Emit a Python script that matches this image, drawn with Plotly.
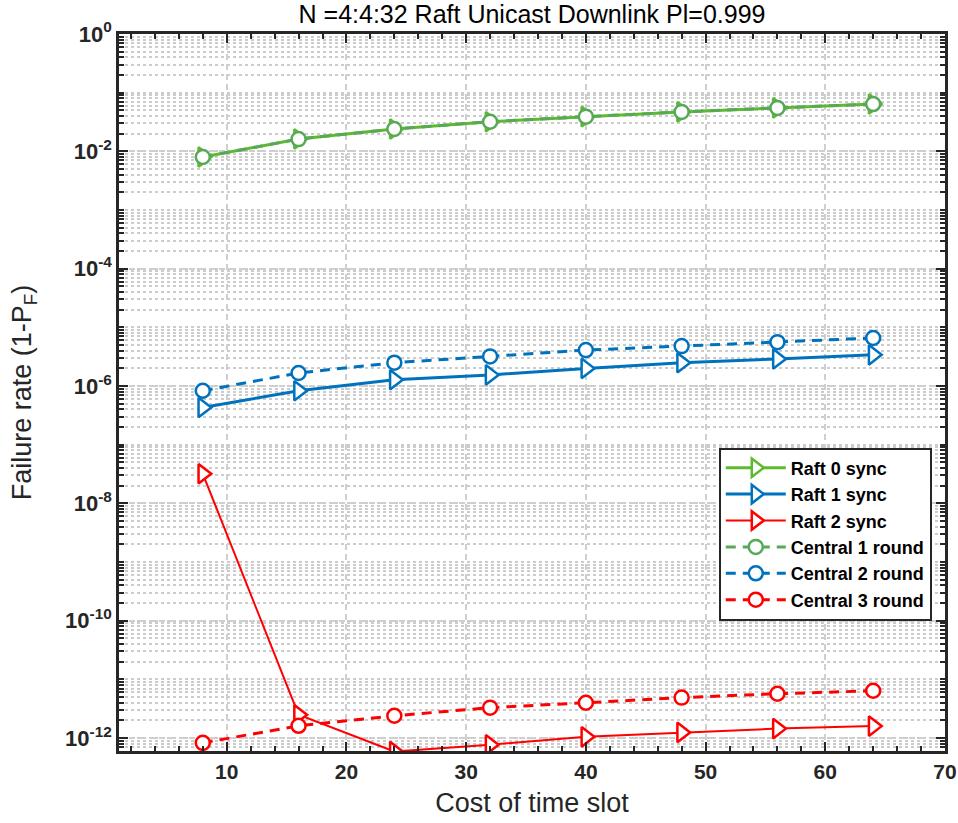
import plotly.graph_objects as go

x = [8, 16, 24, 32, 40, 48, 56, 64]

raft0 = [8.0e-3, 1.62e-2, 2.4e-2, 3.2e-2, 3.9e-2, 4.7e-2, 5.5e-2, 6.4e-2]
raft1 = [4.3e-7, 8.3e-7, 1.28e-6, 1.55e-6, 2.0e-6, 2.5e-6, 2.9e-6, 3.4e-6]
raft2 = [3.2e-8, 2.5e-12, 5.9e-13, 7.7e-13, 1.05e-12, 1.25e-12, 1.45e-12, 1.6e-12]
central1 = [8.0e-3, 1.62e-2, 2.4e-2, 3.2e-2, 3.9e-2, 4.7e-2, 5.5e-2, 6.4e-2]
central2 = [8.3e-7, 1.67e-6, 2.5e-6, 3.2e-6, 4.1e-6, 4.8e-6, 5.6e-6, 6.6e-6]
central3 = [8.3e-13, 1.62e-12, 2.4e-12, 3.3e-12, 4.0e-12, 4.9e-12, 5.7e-12, 6.4e-12]

x_ticks = [10, 20, 30, 40, 50, 60, 70]
y_exps = [0, -2, -4, -6, -8, -10, -12]

GREEN_R = "#5cba2e"
GREEN_C = "#58a957"
BLUE = "#0072BD"
RED = "#FF0000"

series = [
    ("Raft 0 sync", raft0, GREEN_R, "solid", "triangle-right", 3),
    ("Raft 1 sync", raft1, BLUE, "solid", "triangle-right", 3),
    ("Raft 2 sync", raft2, RED, "solid", "triangle-right", 2),
    ("Central 1 round", central1, GREEN_C, "10px,7px", "circle", 3),
    ("Central 2 round", central2, BLUE, "10px,7px", "circle", 3),
    ("Central 3 round", central3, RED, "10px,7px", "circle", 3),
]

fig = go.Figure()
for name, ys, col, dash, sym, lw in series:
    tri = sym.startswith("triangle")
    fig.add_trace(go.Scatter(
        x=x, y=ys, name=name, mode="lines+markers",
        line=dict(color=col, width=lw, dash=dash),
        marker=dict(symbol=sym, size=17 if tri else 14, color="white",
                    line=dict(color=col, width=2.5)),
    ))

minor_vals = []
for e in range(-13, 1):
    for k in range(1, 10):
        v = k * 10 ** e
        if 10 ** -12.3 < v <= 1:
            minor_vals.append(v)

axis_col = "#262626"
FONT = "Liberation Sans, Arial, sans-serif"
fig.update_layout(
    width=958, height=823,
    margin=dict(l=119, r=13, t=34, b=72),
    paper_bgcolor="white", plot_bgcolor="white",
    font=dict(family=FONT, color="#262626"),
    title=dict(text="N =4:4:32 Raft Unicast Downlink Pl=0.999",
               x=0.5, xref="paper", xanchor="center", y=0.983, yanchor="middle",
               font=dict(size=25, color="black")),
    showlegend=True,
    legend=dict(x=0.984, xanchor="right", y=0.182, yanchor="bottom",
                bgcolor="white", bordercolor="#262626", borderwidth=2,
                font=dict(size=18, color="black", family=FONT, weight="bold"),
                tracegroupgap=0, itemwidth=60),
)
fig.update_xaxes(
    range=[1, 70], tickvals=x_ticks, ticktext=[str(t) for t in x_ticks],
    tickfont=dict(size=21, weight="bold", color="#262626"),
    title=dict(text="Cost of time slot", font=dict(size=27, color="#262626"), standoff=12),
    automargin=False,
    showline=True, linecolor=axis_col, linewidth=2.5, mirror="ticks",
    ticks="inside", ticklen=9, tickwidth=2, tickcolor=axis_col,
    showgrid=True, gridcolor="#cfcfcf", griddash="6px,4px", gridwidth=1.5,
    zeroline=False,
    minor=dict(dtick=2, tick0=0, ticks="inside", ticklen=5, tickwidth=1.5,
               tickcolor=axis_col, showgrid=False),
)
fig.update_yaxes(
    type="log", range=[-12.22, 0],
    tickvals=[10.0 ** e for e in y_exps],
    ticktext=["10<sup>%d</sup>" % e for e in y_exps],
    tickfont=dict(size=22, weight="bold", color="#262626"),
    title=dict(text="Failure rate (1-P<sub>F</sub>)", font=dict(size=27, color="#262626"), standoff=26),
    automargin=False,
    showline=True, linecolor=axis_col, linewidth=2.5, mirror="ticks",
    ticks="inside", ticklen=9, tickwidth=2, tickcolor=axis_col,
    showgrid=True, gridcolor="#cfcfcf", griddash="6px,4px", gridwidth=1.5,
    zeroline=False,
    minor=dict(tickmode="array", tickvals=minor_vals, ticks="inside", ticklen=5,
               tickwidth=1.5, tickcolor=axis_col, showgrid=True,
               gridcolor="#cccccc", griddash="dot", gridwidth=1.5),
)

fig.write_html("out.html")
